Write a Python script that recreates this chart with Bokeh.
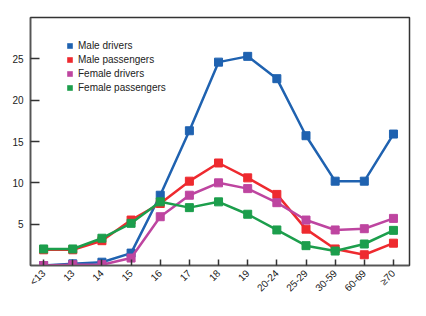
import math
from bokeh.plotting import figure
from bokeh.models import Legend, LegendItem, FixedTicker, Range1d
from bokeh.embed import file_html
from bokeh.resources import INLINE

categories = ["<13", "13", "14", "15", "16", "17", "18", "19", "20-24", "25-29", "30-59", "60-69", "\u226570"]
male_drivers = [0.0, 0.2, 0.4, 1.5, 8.5, 16.3, 24.6, 25.3, 22.6, 15.7, 10.2, 10.2, 15.9]
male_passengers = [1.9, 1.9, 3.0, 5.5, 7.5, 10.2, 12.4, 10.6, 8.6, 4.4, 2.0, 1.3, 2.7]
female_drivers = [0.0, 0.1, 0.1, 0.9, 5.9, 8.5, 10.0, 9.3, 7.6, 5.5, 4.3, 4.45, 5.7]
female_passengers = [2.0, 2.0, 3.3, 5.1, 7.7, 7.0, 7.7, 6.2, 4.3, 2.4, 1.75, 2.6, 4.25]

series = [
    ("Male drivers", male_drivers, "#1f62b0"),
    ("Male passengers", male_passengers, "#ee2a2f"),
    ("Female drivers", female_drivers, "#be45a0"),
    ("Female passengers", female_passengers, "#1c9e4c"),
]

FONT = "Liberation Sans"
xs = list(range(len(categories)))

p = figure(width=426, height=316, output_backend="svg", toolbar_location=None,
           x_range=Range1d(-0.45, 12.55), y_range=Range1d(0, 30),
           min_border_left=30, min_border_right=17, min_border_top=17, min_border_bottom=51)
p.grid.visible = False
p.outline_line_color = "#333333"
p.outline_line_width = 1.5
p.background_fill_color = "white"
p.border_fill_color = "white"

items = []
for name, vals, col in series:
    p.line(xs, vals, line_color=col, line_width=2.5)
    p.scatter(xs, vals, marker="square", size=8, fill_color=col, line_color=col)
    box = p.quad(left=[float("nan")], right=[float("nan")], top=[float("nan")], bottom=[float("nan")],
                 fill_color=col, line_color=None)
    items.append(LegendItem(label=name, renderers=[box]))

p.xaxis.ticker = FixedTicker(ticks=xs)
p.xaxis.major_label_overrides = {i: c for i, c in enumerate(categories)}
p.xaxis.major_label_orientation = math.pi / 4
p.xaxis.major_tick_in = 6
p.xaxis.major_tick_out = 0
p.xaxis.minor_tick_line_color = None
p.yaxis.ticker = FixedTicker(ticks=[5, 10, 15, 20, 25])
p.yaxis.major_tick_in = 9
p.yaxis.major_tick_out = 0
p.yaxis.minor_tick_line_color = None
for ax in (p.xaxis, p.yaxis):
    ax.axis_line_color = "#555555"
    ax.axis_line_width = 1.5
    ax.major_tick_line_color = "#333333"
    ax.major_tick_line_width = 1.5
    ax.major_label_text_font = FONT
    ax.major_label_text_font_size = "10px"
    ax.major_label_text_color = "#222222"
p.yaxis.major_label_standoff = 7
p.xaxis.major_label_standoff = 6

legend = Legend(items=items, location=(36, 171), margin=0, padding=0,
                border_line_alpha=0, background_fill_alpha=0,
                label_text_font=FONT, label_text_font_size="10px",
                label_text_color="#222222",
                glyph_width=7, glyph_height=7, label_height=14, spacing=0,
                label_standoff=5)
p.add_layout(legend)

open("out.html", "w").write(file_html(p, INLINE))
